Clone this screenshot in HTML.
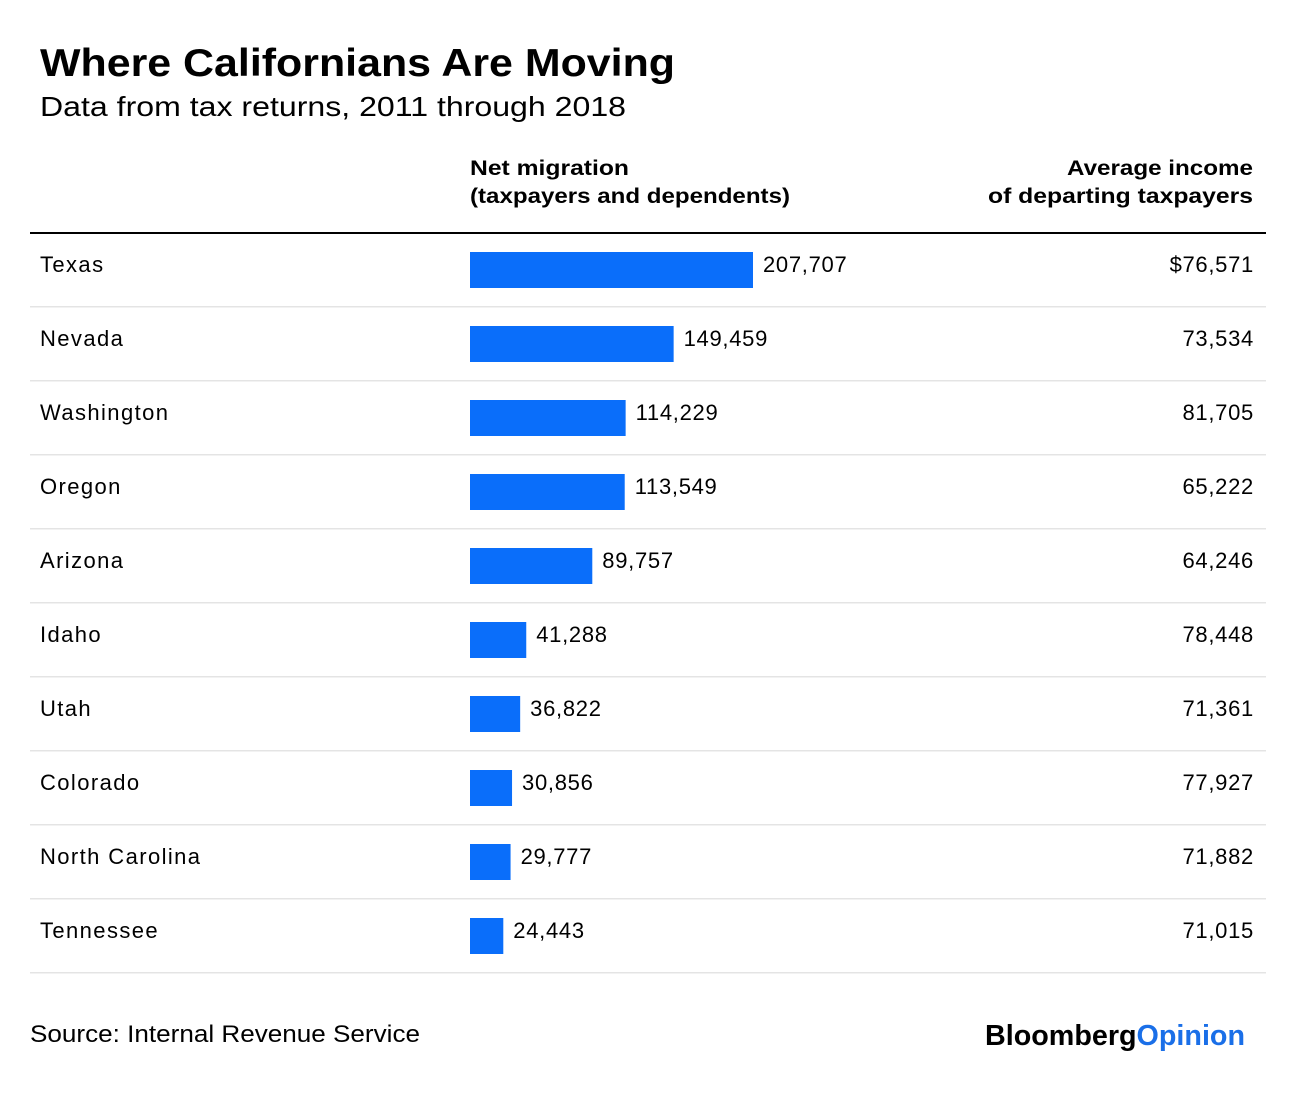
<!DOCTYPE html>
<html><head><meta charset="utf-8"><style>
body{margin:0;background:#fff;width:1296px;height:1090px;overflow:hidden;font-family:"Liberation Sans",sans-serif;}
svg text{font-family:"Liberation Sans",sans-serif;}
</style></head><body>
<svg id="c" width="1296" height="1090">
<text x="40" y="76" font-size="39" font-weight="bold" fill="#000" textLength="635" lengthAdjust="spacingAndGlyphs">Where Californians Are Moving</text>
<text x="40" y="116" font-size="28" fill="#000" textLength="586" lengthAdjust="spacingAndGlyphs">Data from tax returns, 2011 through 2018</text>
<text x="470" y="175" font-size="21" font-weight="bold" textLength="159" lengthAdjust="spacingAndGlyphs">Net migration</text>
<text x="470" y="203" font-size="21" font-weight="bold" textLength="320" lengthAdjust="spacingAndGlyphs">(taxpayers and dependents)</text>
<text x="1253" y="175" font-size="21" font-weight="bold" text-anchor="end" textLength="186" lengthAdjust="spacingAndGlyphs">Average income</text>
<text x="1253" y="203" font-size="21" font-weight="bold" text-anchor="end" textLength="265" lengthAdjust="spacingAndGlyphs">of departing taxpayers</text>
<rect x="30" y="232" width="1236" height="2" fill="#000"/>
<g id="rows"></g>
<text x="30" y="1042" font-size="24" textLength="390" lengthAdjust="spacingAndGlyphs">Source: Internal Revenue Service</text>
<text x="985" y="1045" font-size="29" font-weight="bold" textLength="260" lengthAdjust="spacingAndGlyphs"><tspan fill="#000">Bloomberg</tspan><tspan fill="#1a6fe8">Opinion</tspan></text>
</svg>
<script>
const states = ["Texas","Nevada","Washington","Oregon","Arizona","Idaho","Utah","Colorado","North Carolina","Tennessee"];
const migration = [207707,149459,114229,113549,89757,41288,36822,30856,29777,24443];
const income = ["$76,571","73,534","81,705","65,222","64,246","78,448","71,361","77,927","71,882","71,015"];
const NS="http://www.w3.org/2000/svg";
const g=document.getElementById('rows');
const x0=470, scale=283/207707;
function xw(v){return v*scale;}
function rowY(i){return 234+i*74;}
function mk(tag,attrs,txt){const e=document.createElementNS(NS,tag);for(const k in attrs)e.setAttribute(k,attrs[k]);if(txt!=null)e.textContent=txt;g.appendChild(e);return e;}
states.forEach((s,i)=>{
  const y=rowY(i);
  let t=mk('text',{x:40,y:y+38,'font-size':22,'letter-spacing':1.4},s);
  
  
  let b=mk('rect',{x:x0,y:y+18,width:xw(migration[i]),height:36,fill:'#0a6efa'});
  
  
  let v=mk('text',{x:x0+xw(migration[i])+10,y:y+38,'font-size':22,'letter-spacing':0.7},migration[i].toLocaleString('en-US'));
  
  
  let inc=mk('text',{x:1254,y:y+38,'font-size':22,'text-anchor':'end','letter-spacing':0.7},income[i]);
  
  
  let l=mk('rect',{x:30,y:y+72,width:1236,height:1.5,fill:'#e4e4e4'});
  
  
});
</script>
</body></html>
